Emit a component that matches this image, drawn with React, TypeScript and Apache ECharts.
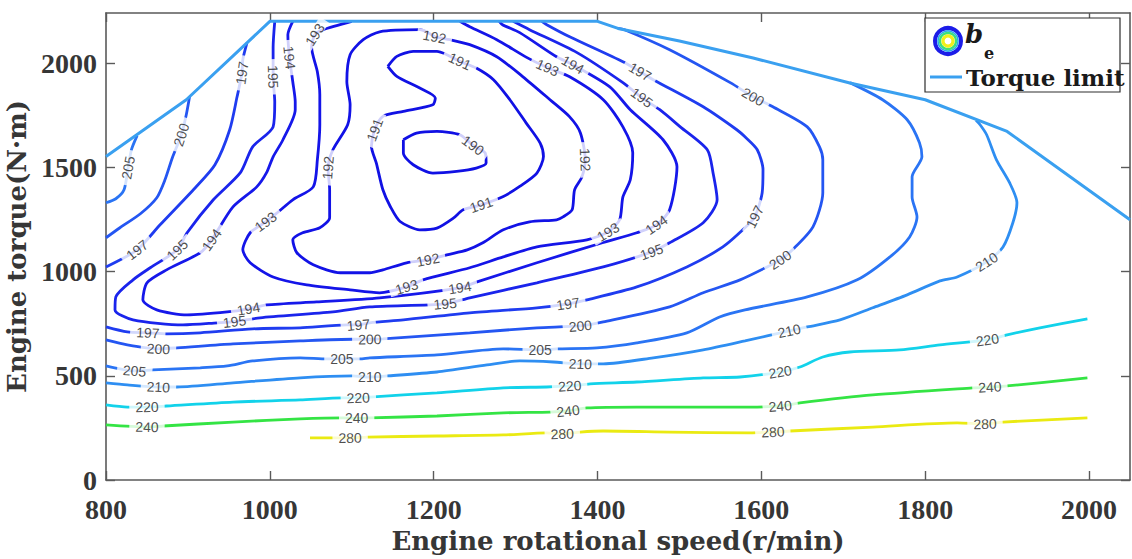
import React, { useEffect, useRef } from "react";
import * as echarts from "echarts";

type Pt = [number, number];

// Axis ticks
const speedTicks = [800, 1000, 1200, 1400, 1600, 1800, 2000];
const torqueTicks = [0, 500, 1000, 1500, 2000];

// Full-load torque curve (r/min, N·m)
const torqueLimit: Pt[] = [[800, 1552], [898, 1824], [1000, 2200], [1400, 2200], [1425, 2166], [1500, 2106], [1590, 2024], [1708, 1904], [1800, 1824], [1900, 1672], [2050, 1248]];

// Specific fuel consumption contours b_e (g/kWh)
const be190: Pt[] = [[1163, 1632], [1179, 1664], [1204, 1672], [1232, 1656], [1248, 1605], [1263, 1568], [1264, 1520], [1252, 1496], [1228, 1480], [1199, 1472], [1175, 1512], [1163, 1568], [1163, 1632]];
const be191: Pt[] = [[1144, 1984], [1155, 2032], [1175, 2056], [1204, 2056], [1216, 2040], [1232, 2008], [1252, 1976], [1273, 1920], [1293, 1824], [1313, 1712], [1330, 1616], [1334, 1552], [1326, 1472], [1305, 1408], [1285, 1360], [1258, 1320], [1236, 1296], [1224, 1256], [1204, 1208], [1183, 1200], [1159, 1240], [1147, 1312], [1138, 1392], [1130, 1520], [1124, 1600], [1128, 1680], [1138, 1744], [1163, 1768], [1199, 1800], [1202, 1832], [1183, 1880], [1155, 1936], [1144, 1984]];
const be192: Pt[] = [[1201, 2126], [1220, 2112], [1244, 2088], [1277, 2030], [1309, 1934], [1342, 1824], [1366, 1742], [1379, 1666], [1385, 1536], [1381, 1454], [1372, 1392], [1369, 1296], [1358, 1262], [1350, 1248], [1317, 1238], [1285, 1200], [1260, 1138], [1241, 1104], [1216, 1080], [1193, 1056], [1167, 1042], [1138, 1008], [1122, 994], [1086, 994], [1053, 1032], [1033, 1090], [1028, 1152], [1040, 1186], [1061, 1210], [1073, 1258], [1073, 1392], [1071, 1498], [1077, 1584], [1095, 1704], [1098, 1800], [1094, 1910], [1098, 2040], [1114, 2112], [1134, 2150], [1183, 2160], [1201, 2126]];
const be193: Pt[] = [[1100, 2200], [1065, 2160], [1055, 2136], [1051, 2074], [1058, 1958], [1061, 1848], [1061, 1704], [1058, 1536], [1053, 1406], [1028, 1344], [1009, 1282], [995, 1238], [976, 1186], [967, 1104], [976, 1042], [1004, 974], [1045, 936], [1098, 912], [1134, 898], [1167, 926], [1187, 960], [1244, 1018], [1285, 1070], [1326, 1118], [1387, 1152], [1413, 1190], [1427, 1248], [1431, 1358], [1440, 1440], [1443, 1570], [1431, 1694], [1407, 1824], [1366, 1934], [1339, 1978], [1314, 2026], [1277, 2112], [1244, 2174], [1232, 2200]];
const be194: Pt[] = [[1028, 2200], [1022, 2136], [1024, 2026], [1028, 1910], [1031, 1814], [1031, 1776], [1016, 1632], [1004, 1550], [996, 1474], [984, 1406], [955, 1310], [929, 1152], [915, 1090], [874, 1008], [850, 946], [845, 864], [862, 816], [899, 792], [948, 806], [974, 821], [996, 840], [1057, 854], [1134, 874], [1232, 922], [1253, 950], [1326, 1042], [1406, 1138], [1448, 1186], [1472, 1224], [1488, 1296], [1497, 1502], [1480, 1632], [1440, 1776], [1415, 1886], [1370, 1992], [1350, 2030], [1305, 2146], [1284, 2184], [1280, 2200]];
const be195: Pt[] = [[1006, 2200], [1004, 2074], [1004, 1934], [1006, 1814], [1004, 1694], [979, 1598], [964, 1474], [931, 1344], [899, 1186], [887, 1104], [854, 1018], [833, 960], [812, 878], [811, 816], [833, 768], [894, 744], [936, 754], [957, 760], [988, 778], [1077, 806], [1122, 830], [1214, 845], [1244, 874], [1326, 946], [1407, 1022], [1466, 1094], [1488, 1138], [1529, 1234], [1546, 1344], [1541, 1474], [1534, 1584], [1501, 1694], [1476, 1776], [1454, 1834], [1431, 1906], [1375, 2050], [1317, 2160], [1297, 2200]];
const be197Upper: Pt[] = [[972, 2095], [967, 2016], [966, 1952], [960, 1838], [951, 1680], [933, 1512], [909, 1402], [866, 1224], [838, 1104], [800, 1022]];
const be197: Pt[] = [[800, 734], [826, 710], [851, 706], [874, 701], [915, 706], [979, 725], [1037, 730], [1094, 744], [1108, 744], [1122, 754], [1163, 768], [1244, 802], [1326, 826], [1364, 845], [1387, 864], [1448, 926], [1509, 1022], [1553, 1118], [1580, 1210], [1592, 1262], [1601, 1378], [1602, 1488], [1595, 1584], [1580, 1646], [1570, 1680], [1529, 1790], [1468, 1920], [1452, 1958], [1431, 2006], [1366, 2126], [1338, 2184], [1332, 2200]];
const be200Upper: Pt[] = [[902, 1838], [898, 1752], [892, 1656], [881, 1546], [872, 1440], [862, 1354], [842, 1277], [817, 1210], [800, 1162]];
const be200: Pt[] = [[800, 672], [826, 648], [864, 629], [887, 634], [955, 653], [1037, 667], [1101, 675], [1122, 675], [1138, 677], [1244, 706], [1326, 730], [1379, 739], [1407, 758], [1488, 830], [1529, 898], [1574, 960], [1607, 1022], [1623, 1056], [1638, 1104], [1663, 1214], [1675, 1378], [1675, 1536], [1671, 1598], [1656, 1694], [1614, 1790], [1590, 1838], [1562, 1906], [1488, 2064], [1433, 2160], [1425, 2166]];
const be205Upper: Pt[] = [[838, 1652], [831, 1584], [827, 1498], [822, 1392], [812, 1349], [800, 1330]];
const be205: Pt[] = [[800, 547], [835, 523], [857, 528], [915, 538], [948, 547], [979, 571], [1037, 586], [1070, 581], [1088, 581], [1110, 581], [1122, 586], [1204, 600], [1285, 629], [1330, 624], [1350, 629], [1399, 634], [1448, 658], [1509, 706], [1549, 782], [1580, 816], [1656, 878], [1717, 960], [1757, 1070], [1781, 1166], [1790, 1262], [1784, 1358], [1784, 1454], [1796, 1550], [1793, 1618], [1778, 1728], [1748, 1824], [1708, 1906]];
const be210: Pt[] = [[800, 466], [826, 456], [864, 446], [887, 446], [955, 466], [1037, 490], [1101, 499], [1122, 494], [1143, 499], [1204, 518], [1265, 552], [1305, 571], [1346, 566], [1379, 557], [1407, 557], [1468, 586], [1529, 624], [1580, 667], [1634, 715], [1656, 734], [1696, 768], [1736, 826], [1778, 888], [1818, 955], [1839, 974], [1875, 1046], [1895, 1118], [1907, 1234], [1912, 1330], [1903, 1426], [1887, 1536], [1875, 1656], [1867, 1704], [1862, 1725]];
const be220: Pt[] = [[800, 360], [826, 350], [850, 350], [874, 355], [955, 374], [1037, 384], [1089, 394], [1108, 394], [1122, 398], [1204, 418], [1285, 442], [1338, 446], [1366, 451], [1391, 461], [1448, 470], [1529, 490], [1574, 494], [1623, 518], [1647, 542], [1675, 590], [1708, 614], [1769, 624], [1818, 648], [1876, 672], [1900, 696], [1940, 730], [1998, 773]];
const be240: Pt[] = [[800, 264], [850, 254], [870, 259], [955, 278], [1037, 293], [1089, 298], [1106, 296], [1122, 298], [1204, 307], [1285, 322], [1342, 326], [1364, 331], [1387, 346], [1448, 350], [1529, 350], [1586, 350], [1623, 355], [1647, 370], [1736, 408], [1858, 442], [1879, 446], [1900, 451], [1998, 490]];
const be280: Pt[] = [[1049, 202], [1098, 202], [1119, 206], [1204, 211], [1285, 216], [1338, 226], [1357, 221], [1379, 230], [1407, 235], [1488, 230], [1586, 226], [1614, 230], [1635, 235], [1736, 254], [1839, 274], [1873, 269], [1895, 278], [1998, 298]];

// Inline contour labels: [speed, torque, level]
const contourLabels: [number, number, number][] = [
  [1248, 1605, 190],
  [1232, 2008, 191], [1258, 1320, 191], [1128, 1680, 191],
  [1201, 2126, 192], [1385, 1536, 192], [1193, 1056, 192], [1071, 1498, 192],
  [1055, 2136, 193], [995, 1238, 193], [1167, 926, 193], [1413, 1190, 193], [1339, 1978, 193],
  [1024, 2026, 194], [929, 1152, 194], [974, 821, 194], [1232, 922, 194], [1472, 1224, 194], [1370, 1992, 194],
  [1004, 1934, 195], [887, 1104, 195], [957, 760, 195], [1214, 845, 195], [1466, 1094, 195], [1454, 1834, 195],
  [966, 1952, 197], [838, 1104, 197], [851, 706, 197], [1108, 744, 197], [1364, 845, 197], [1592, 1262, 197], [1452, 1958, 197],
  [892, 1656, 200], [864, 629, 200], [1122, 675, 200], [1379, 739, 200], [1623, 1056, 200], [1590, 1838, 200],
  [827, 1498, 205], [835, 523, 205], [1088, 581, 205], [1330, 624, 205],
  [864, 446, 210], [1122, 494, 210], [1379, 557, 210], [1634, 715, 210], [1875, 1046, 210],
  [850, 350, 220], [1108, 394, 220], [1366, 451, 220], [1623, 518, 220], [1876, 672, 220],
  [850, 254, 240], [1106, 296, 240], [1364, 331, 240], [1623, 355, 240], [1879, 446, 240],
  [1098, 202, 280], [1357, 221, 280], [1614, 230, 280], [1873, 269, 280],
];

const contourLines: { level: number; points: Pt[] }[] = [
  { level: 280, points: be280 },
  { level: 240, points: be240 },
  { level: 220, points: be220 },
  { level: 210, points: be210 },
  { level: 205, points: be205 },
  { level: 205, points: be205Upper },
  { level: 200, points: be200 },
  { level: 200, points: be200Upper },
  { level: 197, points: be197 },
  { level: 197, points: be197Upper },
  { level: 195, points: be195 },
  { level: 194, points: be194 },
  { level: 193, points: be193 },
  { level: 192, points: be192 },
  { level: 191, points: be191 },
  { level: 190, points: be190 },
];

const levelColor: Record<number, string> = {
  190: "#1010e4",
  191: "#1111e4",
  192: "#1212e6",
  193: "#1414e8",
  194: "#1618ea",
  195: "#1a24ec",
  197: "#1f3cf0",
  200: "#2456f2",
  205: "#2a74f4",
  210: "#2e8ef2",
  220: "#12d2ea",
  240: "#34e444",
  280: "#eaea12",
};

const SERIF = '"Liberation Serif", "Times New Roman", serif';
const WIDE_SERIF = '"DejaVu Serif", "Liberation Serif", serif';
const SANS = '"Liberation Sans", Arial, sans-serif';
const AXIS_GREY = "#5a5a5a";
const TEXT_GREY = "#363636";
const LIMIT_BLUE = "#3aa0f0";

function labelAngle(chart: echarts.ECharts, at: Pt, level: number): number {
  const c = chart.convertToPixel({ gridIndex: 0 }, at) as number[];
  let best = Infinity;
  let ang = 0;
  contourLines
    .filter((l) => l.level === level)
    .forEach((l) => {
      const p = l.points.map((q) => chart.convertToPixel({ gridIndex: 0 }, q) as number[]);
      for (let i = 0; i < p.length; i++) {
        const d = Math.hypot(p[i][0] - c[0], p[i][1] - c[1]);
        if (d < best) {
          best = d;
          const a = p[Math.max(i - 1, 0)];
          const b = p[Math.min(i + 1, p.length - 1)];
          ang = (Math.atan2(-(b[1] - a[1]), b[0] - a[0]) * 180) / Math.PI;
        }
      }
    });
  if (ang > 90) ang -= 180;
  if (ang < -90) ang += 180;
  return ang;
}

export default function App() {
  const ref = useRef<HTMLDivElement>(null);

  useEffect(() => {
    document.body.style.margin = "0";
    if (!ref.current) return;
    const chart = echarts.init(ref.current, undefined, { renderer: "svg" });

    const axisCommon = {
      type: "value" as const,
      axisLine: { show: true, onZero: false, lineStyle: { color: AXIS_GREY, width: 1.6 } },
      splitLine: { show: false },
    };
    const tickText = {
      color: TEXT_GREY,
      fontFamily: SERIF,
      fontSize: 28,
      fontWeight: "bold" as const,
      formatter: (v: number) => String(v),
    };
    const titleText = { color: TEXT_GREY, fontFamily: WIDE_SERIF, fontSize: 26, fontWeight: "bold" as const };

    const lineSeries = contourLines.map((l) => ({
      type: "line" as const,
      data: l.points,
      showSymbol: false,
      symbol: "none",
      smooth: 0.25,
      silent: true,
      z: 2,
      lineStyle: { color: levelColor[l.level], width: 2.8 },
    }));

    const buildLabels = (angles: number[]) => ({
      type: "scatter" as const,
      silent: true,
      z: 10,
      symbol: "circle",
      symbolSize: 1,
      itemStyle: { color: "#ffffff" },
      label: {
        show: true,
        position: "inside" as const,
        formatter: (p: any) => String(p.value[2]),
        color: "#1e1e1e",
        fontFamily: SANS,
        fontSize: 14,
        lineHeight: 11,
        backgroundColor: "#ffffff",
        padding: [0, 6],
      },
      data: contourLabels.map((d, i) => ({
        value: d,
        label: { rotate: angles[i] ?? 0 },
      })),
    });

    const option: any = {
      animation: false,
      grid: { left: 106, right: 2, top: 13, bottom: 79, containLabel: false, outerBoundsMode: "none" },
      xAxis: [
        {
          ...axisCommon,
          min: 800,
          max: 2050,
          position: "bottom",
          axisTick: { inside: true, length: 9, customValues: speedTicks, lineStyle: { color: AXIS_GREY, width: 1.4 } },
          axisLabel: { ...tickText, customValues: speedTicks, margin: 15 },
          name: "Engine rotational speed(r/min)",
          nameLocation: "middle",
          nameGap: 47,
          nameTextStyle: titleText,
        },
        {
          ...axisCommon,
          min: 800,
          max: 2050,
          position: "top",
          axisTick: { inside: true, length: 9, customValues: speedTicks, lineStyle: { color: AXIS_GREY, width: 1.4 } },
          axisLabel: { show: false },
        },
      ],
      yAxis: [
        {
          ...axisCommon,
          min: 0,
          max: 2240,
          position: "left",
          axisTick: { inside: true, length: 9, customValues: torqueTicks, lineStyle: { color: AXIS_GREY, width: 1.4 } },
          axisLabel: { ...tickText, customValues: torqueTicks, margin: 9 },
          name: "Engine torque(N·m)",
          nameLocation: "middle",
          nameGap: 64,
          nameTextStyle: titleText,
        },
        {
          ...axisCommon,
          min: 0,
          max: 2240,
          position: "right",
          axisTick: { inside: true, length: 9, customValues: torqueTicks, lineStyle: { color: AXIS_GREY, width: 1.4 } },
          axisLabel: { show: false },
        },
      ],
      series: [
        ...lineSeries,
        {
          type: "line",
          data: torqueLimit,
          showSymbol: false,
          symbol: "none",
          silent: true,
          z: 3,
          lineStyle: { color: LIMIT_BLUE, width: 3 },
        },
        buildLabels([]),
      ],
      graphic: [
        {
          type: "rect",
          z: 100,
          shape: { x: 925, y: 18, width: 195, height: 74 },
          style: { fill: "#ffffff", stroke: "#2e2e2e", lineWidth: 1.2 },
        },
        { type: "circle", z: 101, shape: { cx: 948, cy: 41, r: 13 }, style: { fill: "none", stroke: "#1c1ce8", lineWidth: 4 } },
        { type: "circle", z: 101, shape: { cx: 948, cy: 41, r: 10 }, style: { fill: "none", stroke: "#2aa8f0", lineWidth: 1.6 } },
        { type: "circle", z: 101, shape: { cx: 948, cy: 41, r: 8 }, style: { fill: "none", stroke: "#3ce07a", lineWidth: 2.4 } },
        { type: "circle", z: 101, shape: { cx: 948, cy: 41, r: 5 }, style: { fill: "#ffffff", stroke: "#f0f01a", lineWidth: 3.2 } },
        {
          type: "text",
          z: 101,
          x: 965,
          y: 34,
          style: { text: "b", fill: "#1a1a1a", font: `italic bold 26px ${WIDE_SERIF}`, align: "left", verticalAlign: "middle" },
        },
        {
          type: "text",
          z: 101,
          x: 984,
          y: 53,
          style: { text: "e", fill: "#1a1a1a", font: `bold 16px ${WIDE_SERIF}`, align: "left", verticalAlign: "middle" },
        },
        {
          type: "line",
          z: 101,
          shape: { x1: 930, y1: 77, x2: 962, y2: 77 },
          style: { stroke: LIMIT_BLUE, lineWidth: 3 },
        },
        {
          type: "text",
          z: 101,
          x: 966,
          y: 77,
          style: { text: "Torque limit", fill: "#1a1a1a", font: `bold 23px ${WIDE_SERIF}`, align: "left", verticalAlign: "middle" },
        },
      ],
    };

    chart.setOption(option);
    const angles = contourLabels.map((d) => labelAngle(chart, [d[0], d[1]], d[2]));
    option.series[option.series.length - 1] = buildLabels(angles);
    chart.setOption(option, { notMerge: true });

    return () => chart.dispose();
  }, []);

  return <div ref={ref} style={{ width: 1132, height: 559 }} />;
}
